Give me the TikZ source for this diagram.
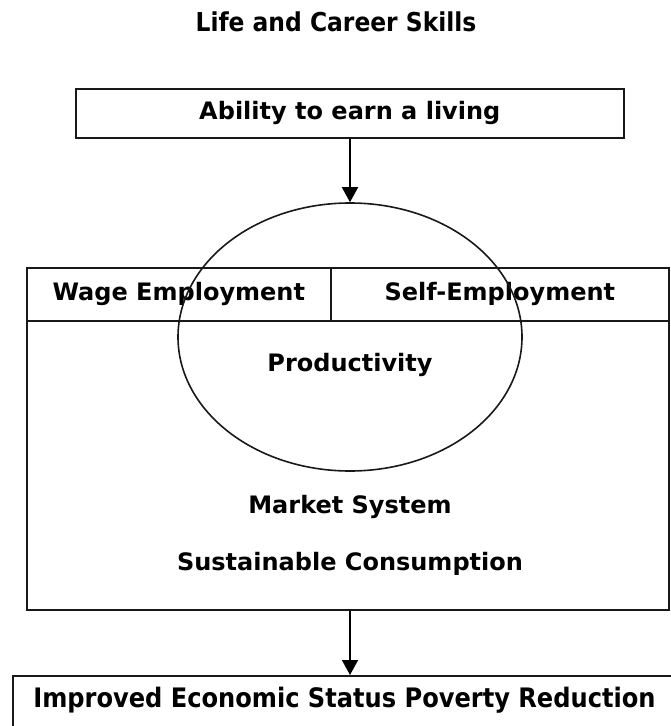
\documentclass[tikz,border=0pt]{standalone}
\usepackage{fontspec}
\setmainfont{DejaVu Sans}
\newfontfamily\condfont{DejaVu Sans Condensed}
\usetikzlibrary{arrows.meta,shapes.geometric}
\begin{document}
\begin{tikzpicture}[x=1pt,y=-1pt,
  box/.style={draw=black!90,line width=1.6pt,inner sep=0pt,anchor=north west},
  lbl/.style={font=\fontsize{24}{28}\selectfont\bfseries,inner sep=0pt},
  titlelbl/.style={font=\condfont\fontsize{26}{30}\selectfont\bfseries,inner sep=0pt},
  condlbl/.style={font=\condfont\fontsize{26.8}{30}\selectfont\bfseries,inner sep=0pt},
  arr/.style={line width=1.6pt,-{Triangle[length=15pt,width=16pt]}}]
\useasboundingbox (0,0) rectangle (671,726);
\clip (0,0) rectangle (671,726);
% title
\node[titlelbl] (title) at (336,22) {Life and Career Skills};
% top box
\node[box,minimum width=548pt,minimum height=49pt] (earn) at (75,88) {};
\node[lbl] (earntxt) at (earn.center) {Ability to earn a living};
% big box
\node[box,minimum width=642pt,minimum height=342pt] (big) at (26,267) {};
\node[box,minimum width=304pt,minimum height=53pt] (wage) at (26,267) {};
\node[box,minimum width=338pt,minimum height=53pt] (self) at (330,267) {};
\node[lbl] (wagetxt) at (wage.center) {Wage Employment};
\node[lbl] (selftxt) at (self.center) {Self-Employment};
% ellipse
\node[draw=black!90,line width=1.6pt,ellipse,minimum width=344pt,minimum height=268pt,inner sep=0pt] (circ) at (350,337) {};
\node[lbl] (prod) at (350,365) {Productivity};
\node[lbl] (market) at (350,507) {Market System};
\node[lbl] (sust) at (350,564) {Sustainable Consumption};
% bottom box
\node[box,minimum width=700pt,minimum height=80pt] (improved) at (12,675) {};
\node[condlbl] (imptxt) at (344.5,700) {Improved Economic Status Poverty Reduction};
% arrows
\coordinate (a1) at (circ.north |- earn.south);
\coordinate (a2) at (circ.north |- big.south);
\coordinate (a3) at (circ.north |- improved.north);
\draw[arr] (a1) -- (circ.north);
\draw[arr] (a2) -- (a3);
\end{tikzpicture}
\end{document}
